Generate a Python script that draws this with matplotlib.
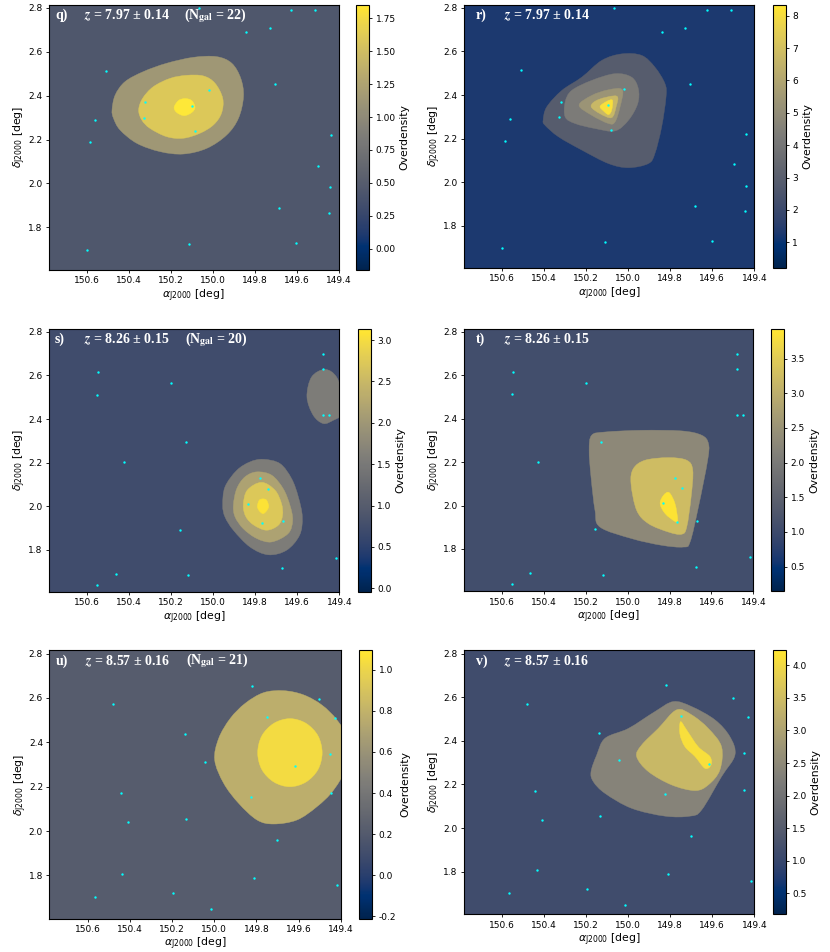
import matplotlib
matplotlib.use('Agg')
import numpy as np
import matplotlib.pyplot as plt
from matplotlib.path import Path
from matplotlib.patches import PathPatch
from matplotlib.colors import Normalize
from matplotlib.cm import ScalarMappable

plt.close('all')

# galaxies (ra, dec), same catalogue in the two panels of a row
ra_z797 = [150.067, 149.627, 149.513, 149.730, 149.840, 149.706, 150.511, 150.018, 150.322, 150.098, 150.328,
           150.563, 150.083, 150.587, 149.438, 149.498, 149.441, 149.683, 149.446, 150.600, 150.112, 149.603]
dec_z797 = [2.800, 2.790, 2.790, 2.710, 2.689, 2.452, 2.514, 2.426, 2.370, 2.353, 2.297,
            2.288, 2.238, 2.188, 2.219, 2.081, 1.984, 1.888, 1.865, 1.698, 1.723, 1.727]

ra_z826 = [149.478, 149.476, 150.546, 150.552, 150.199, 149.478, 149.451, 150.128, 150.427, 149.776,
           149.741, 149.833, 149.766, 149.667, 150.158, 149.418, 149.675, 150.464, 150.120, 150.551]
dec_z826 = [2.699, 2.630, 2.615, 2.512, 2.567, 2.419, 2.417, 2.295, 2.201, 2.128,
            2.080, 2.010, 1.924, 1.930, 1.890, 1.762, 1.716, 1.688, 1.682, 1.638]

ra_z857 = [149.821, 149.502, 150.483, 149.750, 149.428, 150.140, 149.450, 150.045, 149.616, 150.445, 149.448,
           149.827, 150.132, 150.409, 149.703, 150.436, 149.812, 149.418, 150.568, 150.197, 150.017]
dec_z857 = [2.654, 2.595, 2.571, 2.513, 2.508, 2.436, 2.346, 2.311, 2.295, 2.171, 2.173,
            2.155, 2.054, 2.039, 1.962, 1.806, 1.788, 1.759, 1.704, 1.722, 1.647]

# contour outlines, (ra, dec) vertices
q_c1 = [(150.481, 2.335), (150.466, 2.403), (150.419, 2.464), (150.331, 2.510), (150.220, 2.548), (150.093, 2.575),
        (149.982, 2.578), (149.910, 2.548), (149.867, 2.479), (149.854, 2.396), (149.878, 2.297), (149.934, 2.221),
        (150.029, 2.160), (150.141, 2.134), (150.252, 2.145), (150.363, 2.183), (150.443, 2.244), (150.474, 2.297)]
q_c2 = [(150.354, 2.335), (150.335, 2.388), (150.284, 2.441), (150.204, 2.479), (150.125, 2.493), (150.045, 2.490),
        (149.990, 2.457), (149.953, 2.388), (149.959, 2.320), (149.997, 2.267), (150.061, 2.229), (150.141, 2.206),
        (150.220, 2.213), (150.300, 2.251), (150.339, 2.289)]
q_c3 = [(150.185, 2.347), (150.164, 2.378), (150.133, 2.387), (150.101, 2.378), (150.085, 2.347), (150.101, 2.323),
        (150.137, 2.309), (150.172, 2.323)]

r_c1 = [(150.405, 2.284), (150.388, 2.345), (150.316, 2.421), (150.221, 2.482), (150.126, 2.559), (150.031, 2.589),
        (149.936, 2.582), (149.873, 2.528), (149.825, 2.452), (149.820, 2.391), (149.841, 2.253), (149.873, 2.131),
        (149.904, 2.085), (149.999, 2.066), (150.094, 2.085), (150.221, 2.147), (150.332, 2.208), (150.396, 2.261)]
r_c2 = [(150.300, 2.368), (150.269, 2.421), (150.174, 2.467), (150.063, 2.498), (149.984, 2.482), (149.952, 2.429),
        (149.955, 2.360), (149.999, 2.284), (150.063, 2.235), (150.158, 2.246), (150.253, 2.269), (150.300, 2.299)]
r_c3 = [(150.234, 2.353), (150.174, 2.398), (150.094, 2.424), (150.028, 2.424), (150.039, 2.345), (150.063, 2.276),
        (150.094, 2.269), (150.174, 2.307)]
r_c4 = [(150.177, 2.348), (150.142, 2.379), (150.055, 2.395), (150.058, 2.345), (150.079, 2.296), (150.134, 2.314)]
r_c5 = [(150.134, 2.348), (150.102, 2.371), (150.075, 2.376), (150.079, 2.330), (150.094, 2.310), (150.118, 2.327)]

s_c1 = [(149.955, 2.004), (149.944, 2.088), (149.888, 2.164), (149.825, 2.203), (149.762, 2.215), (149.682, 2.195),
        (149.627, 2.126), (149.595, 2.042), (149.576, 1.950), (149.589, 1.866), (149.651, 1.797), (149.738, 1.776),
        (149.825, 1.812), (149.904, 1.889), (149.944, 1.950)]
s_c2 = [(149.904, 2.004), (149.888, 2.080), (149.849, 2.134), (149.793, 2.157), (149.722, 2.142), (149.667, 2.080),
        (149.635, 2.004), (149.622, 1.935), (149.643, 1.874), (149.722, 1.835), (149.793, 1.851), (149.857, 1.896),
        (149.896, 1.950)]
s_c3 = [(149.857, 2.004), (149.838, 2.073), (149.770, 2.109), (149.706, 2.073), (149.675, 2.011), (149.670, 1.958),
        (149.690, 1.912), (149.746, 1.889), (149.806, 1.912), (149.844, 1.950)]
s_c4 = [(149.790, 1.999), (149.781, 2.027), (149.763, 2.033), (149.746, 2.027), (149.736, 1.999), (149.746, 1.978),
        (149.763, 1.965), (149.781, 1.978)]
s_blob = [(149.554, 2.501), (149.532, 2.593), (149.468, 2.628), (149.413, 2.593), (149.381, 2.501), (149.381, 2.425),
          (149.429, 2.394), (149.476, 2.379), (149.524, 2.417)]

t_c1 = [(150.184, 2.255), (150.172, 2.324), (150.108, 2.339), (149.933, 2.347), (149.742, 2.344), (149.646, 2.324),
        (149.614, 2.285), (149.618, 2.209), (149.662, 1.994), (149.702, 1.832), (149.734, 1.809), (149.837, 1.817),
        (149.981, 1.848), (150.132, 1.901), (150.156, 1.978), (150.175, 2.132)]
t_c2 = [(149.984, 2.101), (149.973, 2.170), (149.917, 2.209), (149.805, 2.221), (149.718, 2.209), (149.689, 2.163),
        (149.697, 2.040), (149.718, 1.901), (149.742, 1.868), (149.805, 1.878), (149.901, 1.917), (149.957, 1.978)]
t_c3 = [(149.845, 2.009), (149.829, 2.047), (149.802, 2.060), (149.774, 2.009), (149.761, 1.932), (149.774, 1.927),
        (149.821, 1.963)]

u_c1 = [(149.998, 2.320), (149.979, 2.418), (149.924, 2.508), (149.853, 2.576), (149.766, 2.624), (149.671, 2.633),
        (149.576, 2.614), (149.489, 2.568), (149.418, 2.501), (149.363, 2.411), (149.363, 2.305), (149.434, 2.185),
        (149.513, 2.110), (149.608, 2.050), (149.718, 2.032), (149.797, 2.050), (149.884, 2.125), (149.955, 2.215)]
u_c2 = [(149.794, 2.353), (149.774, 2.430), (149.717, 2.486), (149.641, 2.507), (149.565, 2.486), (149.508, 2.430),
        (149.488, 2.353), (149.508, 2.277), (149.565, 2.221), (149.641, 2.200), (149.717, 2.221), (149.774, 2.277)]

v_c1 = [(150.177, 2.259), (150.150, 2.335), (150.110, 2.412), (149.999, 2.457), (149.873, 2.534), (149.785, 2.580),
        (149.698, 2.557), (149.587, 2.496), (149.516, 2.419), (149.492, 2.335), (149.556, 2.236), (149.651, 2.083),
        (149.706, 2.055), (149.825, 2.055), (149.984, 2.091), (150.110, 2.159), (150.166, 2.213)]
v_c2 = [(149.960, 2.328), (149.936, 2.381), (149.857, 2.457), (149.770, 2.542), (149.698, 2.519), (149.619, 2.457),
        (149.556, 2.373), (149.564, 2.266), (149.619, 2.198), (149.682, 2.172), (149.793, 2.198), (149.904, 2.259)]
v_c3 = [(149.751, 2.488), (149.722, 2.450), (149.667, 2.373), (149.611, 2.328), (149.606, 2.289), (149.635, 2.274),
        (149.682, 2.328), (149.730, 2.373), (149.754, 2.431)]

# overdensity of the background and of each filled band
q_bg, q_levels = 0.44, [1.13, 1.59, 1.85]
r_bg, r_levels = 1.27, [2.9, 4.27, 5.3, 6.7, 8.1]
s_bg, s_levels = 0.72, [1.55, 2.18, 2.72, 3.07]
t_bg, t_levels = 1.09, [2.3, 3.25, 3.86]
u_bg, u_levels = 0.22, [0.77, 1.03]
v_bg, v_levels = 1.15, [2.37, 3.42, 4.1]

# colorbar ranges
q_range, r_range = (-0.162, 1.854), (0.207, 8.34)
s_range, t_range = (-0.044, 3.137), (0.144, 3.932)
u_range, v_range = (-0.211, 1.094), (0.178, 4.231)

q_ticks = [0, 0.25, 0.5, 0.75, 1.0, 1.25, 1.5, 1.75]
r_ticks = [1, 2, 3, 4, 5, 6, 7, 8]
s_ticks = [0, 0.5, 1.0, 1.5, 2.0, 2.5, 3.0]
t_ticks = [0.5, 1.0, 1.5, 2.0, 2.5, 3.0, 3.5]
u_ticks = [-0.2, 0, 0.2, 0.4, 0.6, 0.8, 1.0]
v_ticks = [0.5, 1.0, 1.5, 2.0, 2.5, 3.0, 3.5, 4.0]

W, H = 830, 952
cmap = plt.cm.cividis


def smooth_patch(verts, color):
    # closed bezier path that goes through the read vertices
    p = np.array(verts)
    prev, nxt, nxt2 = np.roll(p, 1, axis=0), np.roll(p, -1, axis=0), np.roll(p, -2, axis=0)
    pts = [p[0]]
    codes = [Path.MOVETO]
    for i in range(len(p)):
        pts += [p[i] + (nxt[i] - prev[i]) / 6, nxt[i] - (nxt2[i] - p[i]) / 6, nxt[i]]
        codes += [Path.CURVE4] * 3
    return PathPatch(Path(pts, codes), facecolor=color, edgecolor=color, linewidth=0.3)


def panel(box, cbox, ra, dec, bg, levels, outlines, vrange, ticks, fmt, tag, z, ngal=None):
    ax = fig.add_axes([box[0] / W, 1 - box[3] / H, (box[1] - box[0]) / W, (box[3] - box[2]) / H])
    norm = Normalize(*vrange)
    ax.set_facecolor(cmap(norm(bg)))
    for level, outline in zip(levels, outlines):
        ax.add_patch(smooth_patch(outline, cmap(norm(level))))
    ax.scatter(ra, dec, s=3.0, c='cyan', linewidths=0, zorder=5)
    ax.set_xlim(150.783, 149.4)
    ax.set_ylim(1.605, 2.815)
    ax.set_xticks([150.6, 150.4, 150.2, 150.0, 149.8, 149.6, 149.4])
    ax.set_yticks([1.8, 2.0, 2.2, 2.4, 2.6, 2.8])
    ax.tick_params(labelsize=6.5, length=2.5, width=0.6, pad=2)
    ax.set_xlabel(r'$\alpha_{\mathrm{J2000}}$ [deg]', fontsize=7.8, labelpad=1.5)
    ax.set_ylabel(r'$\delta_{\mathrm{J2000}}$ [deg]', fontsize=7.8, labelpad=0)

    white = dict(transform=ax.transAxes, color='white', family='Liberation Serif', weight='bold',
                 fontsize=10, va='center', math_fontfamily='stix')
    if ngal is None:
        ax.text(0.041, 0.96, tag, **white)
        ax.text(0.14, 0.96, r'$\mathbfit{z}$ = ' + z, **white)
    else:
        ax.text(0.022, 0.96, tag, **white)
        ax.text(0.122, 0.96, r'$\mathbfit{z}$ = ' + z, **white)
        ax.text(0.468, 0.96, r'(N$_{\mathbf{gal}}$ = ' + ngal + ')', **white)

    cax = fig.add_axes([cbox[0] / W, 1 - box[3] / H, (cbox[1] - cbox[0]) / W, (box[3] - box[2]) / H])
    cb = fig.colorbar(ScalarMappable(norm=norm, cmap=cmap), cax=cax, ticks=ticks, format=fmt)
    cb.ax.tick_params(labelsize=6.5, length=2.5, width=0.6, pad=2)
    cb.set_label('Overdensity', fontsize=7.8, labelpad=3)
    return ax


fig = plt.figure(figsize=(W / 100, H / 100), dpi=100)

panel((48.7, 338.7, 4.7, 270), (356.3, 369.3), ra_z797, dec_z797, q_bg, q_levels, [q_c1, q_c2, q_c3],
      q_range, q_ticks, '%.2f', 'q)', '7.97 ± 0.14', '22')
panel((463.7, 754.3, 4.7, 268), (772.7, 786), ra_z797, dec_z797, r_bg, r_levels, [r_c1, r_c2, r_c3, r_c4, r_c5],
      r_range, r_ticks, '%d', 'r)', '7.97 ± 0.14')
panel((48.7, 339.3, 328.7, 592), (357.7, 371), ra_z826, dec_z826, s_bg, s_levels + [s_levels[0]],
      [s_c1, s_c2, s_c3, s_c4, s_blob], s_range, s_ticks, '%.1f', 's)', '8.26 ± 0.15', '20')
panel((463.7, 753.3, 328.7, 591.3), (771.3, 784.3), ra_z826, dec_z826, t_bg, t_levels, [t_c1, t_c2, t_c3],
      t_range, t_ticks, '%.1f', 't)', '8.26 ± 0.15')
panel((49.3, 340.7, 650.3, 918.7), (359, 372.3), ra_z857, dec_z857, u_bg, u_levels, [u_c1, u_c2],
      u_range, u_ticks, '%.1f', 'u)', '8.57 ± 0.16', '21')
panel((463.7, 754.3, 650.3, 914.3), (772.7, 786), ra_z857, dec_z857, v_bg, v_levels, [v_c1, v_c2, v_c3],
      v_range, v_ticks, '%.1f', 'v)', '8.57 ± 0.16')

fig.savefig('out.png', dpi=100)
